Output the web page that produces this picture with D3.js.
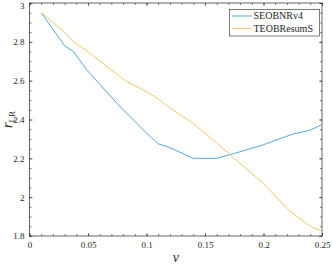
<!DOCTYPE html>
<html>
<head>
<meta charset="utf-8">
<script src="https://cdn.jsdelivr.net/npm/d3@7"></script>
<style>
  body { margin: 0; background: #fff; }
  text { font-family: "Liberation Serif", "DejaVu Serif", serif; fill: #262626; }
</style>
</head>
<body>
<div id="chart"></div>
<script>
// data
var nuSEOB = [0.01, 0.03, 0.0375, 0.049, 0.0775, 0.1, 0.11, 0.12, 0.14, 0.16, 0.175, 0.2, 0.225, 0.24, 0.25];
var rSEOB = [2.95, 2.78, 2.75, 2.655, 2.465, 2.33, 2.275, 2.255, 2.2, 2.2, 2.225, 2.27, 2.325, 2.345, 2.375];
var nuTEOB = [0.01, 0.02, 0.03, 0.0375, 0.0475, 0.083, 0.099, 0.11, 0.12, 0.14, 0.16, 0.175, 0.2, 0.222, 0.24, 0.25];
var rTEOB = [2.95, 2.9, 2.85, 2.8, 2.76, 2.595, 2.547, 2.505, 2.46, 2.38, 2.28, 2.2, 2.07, 1.93, 1.85, 1.825];
var seriesNames = ["SEOBNRv4", "TEOBResumS"];
var xTicks = [0, 0.05, 0.1, 0.15, 0.2, 0.25];
var yTicks = [1.8, 2, 2.2, 2.4, 2.6, 2.8, 3];

var W = 332, H = 264;
// plot box edges in pixels
var box = { x0: 29.5, x1: 322, y0: 3, y1: 236 };
var colors = ["#5aa8de", "#f2c96a"];

var svg = d3.select("#chart").append("svg")
  .attr("width", W).attr("height", H);

var x = d3.scaleLinear().domain([0, 0.25]).range([box.x0, box.x1]);
var y = d3.scaleLinear().domain([1.8, 3]).range([box.y1, box.y0]);

// minor ticks
var xMinor = d3.range(0, 0.2501, 0.01);
var yMinor = d3.range(1.8, 3.001, 0.05);

var fmt = function (d) { return d3.format("~g")(+d.toFixed(3)); };

function axisStyle(g) {
  g.select(".domain").remove();
  g.selectAll("line").attr("stroke", "#262626").attr("stroke-width", 0.6);
  g.selectAll("text").style("font-size", "9px").attr("fill", "#262626");
}

// bottom
svg.append("g").attr("transform", "translate(0," + box.y1 + ")")
  .call(d3.axisBottom(x).tickValues(xMinor).tickSize(-2).tickFormat(""))
  .call(axisStyle);
svg.append("g").attr("transform", "translate(0," + box.y1 + ")")
  .call(d3.axisBottom(x).tickValues(xTicks).tickSize(-3).tickPadding(6).tickFormat(fmt))
  .call(axisStyle);
// top
svg.append("g").attr("transform", "translate(0," + box.y0 + ")")
  .call(d3.axisTop(x).tickValues(xMinor).tickSize(-2).tickFormat(""))
  .call(axisStyle);
svg.append("g").attr("transform", "translate(0," + box.y0 + ")")
  .call(d3.axisTop(x).tickValues(xTicks).tickSize(-3).tickFormat(""))
  .call(axisStyle);
// left
svg.append("g").attr("transform", "translate(" + box.x0 + ",0)")
  .call(d3.axisLeft(y).tickValues(yMinor).tickSize(-2).tickFormat(""))
  .call(axisStyle);
svg.append("g").attr("transform", "translate(" + box.x0 + ",0)")
  .call(d3.axisLeft(y).tickValues(yTicks).tickSize(-3).tickPadding(5).tickFormat(fmt))
  .call(axisStyle);
// right
svg.append("g").attr("transform", "translate(" + box.x1 + ",0)")
  .call(d3.axisRight(y).tickValues(yMinor).tickSize(-2).tickFormat(""))
  .call(axisStyle);
svg.append("g").attr("transform", "translate(" + box.x1 + ",0)")
  .call(d3.axisRight(y).tickValues(yTicks).tickSize(-3).tickFormat(""))
  .call(axisStyle);

// the "3" label sits at the very top edge, nudge it so it is not clipped
svg.selectAll("g text").filter(function () { return this.textContent === "3"; })
  .attr("dy", "0.6em");

// frame
svg.append("rect")
  .attr("x", box.x0).attr("y", box.y0)
  .attr("width", box.x1 - box.x0).attr("height", box.y1 - box.y0)
  .attr("fill", "none").attr("stroke", "#262626").attr("stroke-width", 0.7);

var line = d3.line()
  .x(function (d) { return x(d[0]); })
  .y(function (d) { return y(d[1]); });

var series = [
  d3.zip(nuSEOB, rSEOB),
  d3.zip(nuTEOB, rTEOB)
];

series.forEach(function (s, i) {
  svg.append("path")
    .datum(s)
    .attr("d", line)
    .attr("fill", "none")
    .attr("stroke", colors[i])
    .attr("stroke-width", 1);
});

// legend
var lg = svg.append("g");
lg.append("rect")
  .attr("x", 229.5).attr("y", 9.5).attr("width", 90).attr("height", 26.5)
  .attr("fill", "#fff").attr("stroke", "#262626").attr("stroke-width", 0.6);
seriesNames.forEach(function (name, i) {
  var yy = 16 + i * 12.3;
  lg.append("line")
    .attr("x1", 232).attr("x2", 252).attr("y1", yy).attr("y2", yy)
    .attr("stroke", colors[i]).attr("stroke-width", 1);
  lg.append("text")
    .attr("x", 253.5).attr("y", yy + 3.3)
    .style("font-size", "10px")
    .text(name);
});

// axis labels
svg.append("text")
  .attr("x", (box.x0 + box.x1) / 2).attr("y", 262)
  .attr("text-anchor", "middle")
  .style("font-size", "14px").style("font-style", "italic")
  .text("ν");

var yl = svg.append("text")
  .attr("transform", "translate(12," + (box.y0 + box.y1) / 2 + ") rotate(-90)")
  .attr("text-anchor", "middle");
yl.append("tspan").style("font-size", "14px").style("font-style", "italic").text("r");
yl.append("tspan").style("font-size", "9px").attr("dy", 3).text("LR");
</script>
</body>
</html>
